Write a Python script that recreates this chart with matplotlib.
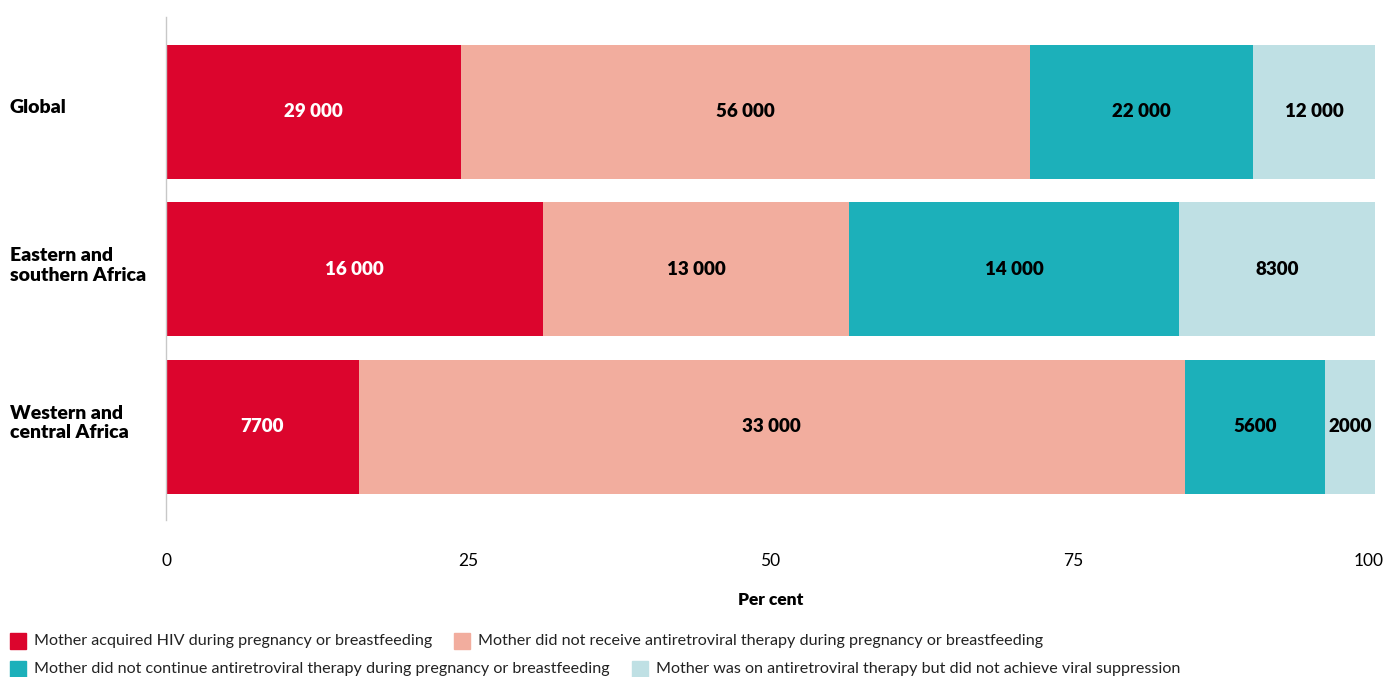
import matplotlib
matplotlib.use("Agg")
import matplotlib.pyplot as plt
from matplotlib.patches import Rectangle
from matplotlib.transforms import ScaledTranslation
import numpy as np

plt.rcParams['font.family'] = ['Lato', 'DejaVu Sans']

regions = ["Global", "Eastern and\nsouthern Africa", "Western and\ncentral Africa"]
series_names = [
    "Mother acquired HIV during pregnancy or breastfeeding",
    "Mother did not receive antiretroviral therapy during pregnancy or breastfeeding",
    "Mother did not continue antiretroviral therapy during pregnancy or breastfeeding",
    "Mother was on antiretroviral therapy but did not achieve viral suppression",
]
acquired = [29000, 16000, 7700]
no_art = [56000, 13000, 33000]
discontinued = [22000, 14000, 5600]
not_suppressed = [12000, 8300, 2000]
value_labels = [
    ["29 000", "16 000", "7700"],
    ["56 000", "13 000", "33 000"],
    ["22 000", "14 000", "5600"],
    ["12 000", "8300", "2000"],
]
colors = ["#DC052D", "#F2AD9E", "#1CB0BA", "#BFE0E4"]
text_colors = ["white", "black", "black", "black"]
xticks = [0, 25, 50, 75, 100]

W, H = 1386, 677
fig = plt.figure(figsize=(W / 100, H / 100), dpi=100)
ax = fig.add_axes([166 / W, 1 - 520 / H, (1375 - 166) / W, (520 - 17) / H])

counts = np.array([acquired, no_art, discontinued, not_suppressed], dtype=float)
shares = counts / counts.sum(axis=0) * 100
y = np.arange(len(regions))
left = np.zeros(len(regions))
for i in range(len(series_names)):
    ax.barh(y, shares[i], left=left, height=0.85, color=colors[i], label=series_names[i])
    for j in range(len(regions)):
        ax.text(left[j] + shares[i][j] / 2, y[j], value_labels[i][j],
                ha="center", va="center", fontsize=13.5, fontweight="heavy",
                color=text_colors[i])
    left += shares[i]

ax.set_xlim(0, 100)
ax.set_ylim(2.59, -0.6)
ax.set_xticks(xticks)
ax.set_xticklabels([str(t) for t in xticks], fontsize=12.5)
ax.tick_params(axis="x", length=0, pad=24)
# keep the last tick label inside the canvas
last = ax.get_xticklabels()[-1]
last.set_transform(last.get_transform() + ScaledTranslation(-6 / 100, 0, fig.dpi_scale_trans))
ax.set_yticks([])
for s in ["top", "right", "bottom"]:
    ax.spines[s].set_visible(False)
ax.spines["left"].set_color("#C8C8C8")
ax.spines["left"].set_linewidth(1)
ax.set_xlabel("Per cent", fontsize=12.5, fontweight="heavy", labelpad=16)

# Category labels at the left margin
for j, name in enumerate(regions):
    yc = ax.transData.transform((0, y[j]))[1]
    fig.text(10 / W, (yc + 4) / H, name, ha="left", va="center",
             fontsize=14, fontweight="heavy", linespacing=1.2)

# Legend laid out as a flowing list
fig.canvas.draw()
renderer = fig.canvas.get_renderer()
rows = [[0, 1], [2, 3]]
row_y = [641, 669]
for r, items in enumerate(rows):
    x = 10
    for k in items:
        ypix = H - row_y[r]
        fig.patches.append(Rectangle((x / W, (ypix - 8) / H), 16 / W, 16 / H,
                                     transform=fig.transFigure, color=colors[k]))
        t = fig.text((x + 24) / W, ypix / H, series_names[k], ha="left", va="center",
                     fontsize=11.6, color="#222222")
        bb = t.get_window_extent(renderer)
        x = bb.x1 + 22

fig.savefig("out.png", dpi=100)
